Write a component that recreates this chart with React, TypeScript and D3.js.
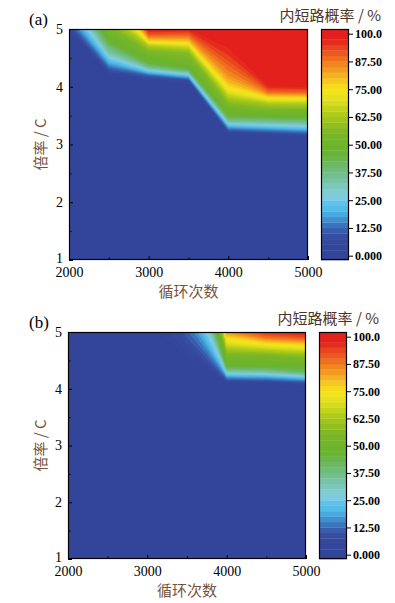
import { useEffect, useRef } from 'react';
import * as d3 from 'd3';

// grid of the contour data: cycle counts (x) and C-rates (y)
const cycles = [2000, 2500, 3000, 3500, 4000, 4500, 5000];
const rates = [1, 3.0, 3.1, 3.2, 3.3, 3.4, 3.5, 3.6, 3.7, 3.8, 3.9, 4.0, 4.1, 4.2, 4.3, 4.4, 4.5, 4.6, 4.7, 4.8, 4.9, 5.0];

// internal short-circuit probability (%), one row per cycle count, values along rates
const probA: number[][] = [
  [0, 0, 0, 0, 0, 0, 0, 0, 0, 0, 0, 0, 0, 0, 0, 0, 0, 0, 0, 0, 1, 6],
  [0, 0, 0, 0, 0, 0, 0, 0, 0, 0, 0, 0, 0, 3, 10, 18, 26, 34, 40, 47, 50, 54],
  [0, 0, 0, 0, 0, 0, 0, 0, 0, 0, 0, 0, 2, 12, 30, 45, 50, 55, 62, 78, 91, 99],
  [0, 0, 0, 0, 0, 0, 0, 0, 0, 0, 0, 0, 6, 24, 44, 50, 54, 58, 68, 80, 90, 98],
  [0, 0, 0, 5, 18, 34, 46, 52, 56, 62, 70, 76, 81, 85, 88, 91, 94, 96, 98, 99, 100, 100],
  [0, 0, 0, 8, 22, 36, 48, 55, 62, 74, 88, 97, 100, 100, 100, 100, 100, 100, 100, 100, 100, 100],
  [0, 0, 2, 12, 25, 38, 49, 55, 63, 75, 89, 98, 100, 100, 100, 100, 100, 100, 100, 100, 100, 100],
];

const probB: number[][] = [
  [0, 0, 0, 0, 0, 0, 0, 0, 0, 0, 0, 0, 0, 0, 0, 0, 0, 0, 0, 0, 0, 0],
  [0, 0, 0, 0, 0, 0, 0, 0, 0, 0, 0, 0, 0, 0, 0, 0, 0, 0, 0, 0, 0, 0],
  [0, 0, 0, 0, 0, 0, 0, 0, 0, 0, 0, 0, 0, 0, 0, 0, 0, 0, 0, 0, 0, 1],
  [0, 0, 0, 0, 0, 0, 0, 0, 0, 0, 0, 0, 0, 0, 0, 0, 2, 4, 6, 8, 10, 12],
  [0, 0, 0, 0, 0, 0, 0, 0, 0, 0, 0, 0, 3, 16, 32, 46, 50, 55, 62, 70, 76, 85],
  [0, 0, 0, 0, 0, 0, 0, 0, 0, 0, 0, 0, 4, 18, 34, 47, 51, 56, 66, 76, 88, 96],
  [0, 0, 0, 0, 0, 0, 0, 0, 0, 0, 0, 0, 8, 24, 42, 48, 53, 60, 70, 80, 92, 99],
];

const xTicks = [2000, 3000, 4000, 5000];
const xMinor = [2500, 3500, 4500];
const yTicks = [1, 2, 3, 4, 5];
const yMinor = [1.5, 2.5, 3.5, 4.5];
const cbTicks = [0, 12.5, 25, 37.5, 50, 62.5, 75, 87.5, 100];
const cbLabels = ['0.000', '12.50', '25.00', '37.50', '50.00', '62.50', '75.00', '87.50', '100.0'];

const colorStops = [0, 8, 12, 16, 20, 24, 27, 31, 36, 42, 47, 55, 60, 65, 70, 75, 79, 83, 88, 93, 97, 100];
const colorList = [
  '#32449a', '#35499d', '#3a62b0', '#3f8ccc', '#4cb8e8', '#62c4ea', '#84cde0', '#7dc8c0',
  '#72bf94', '#6cb75c', '#6ab32e', '#78b628', '#98c21c', '#b8cf1a', '#e0e01e', '#f6e51d',
  '#f6c51e', '#f4a21f', '#f0761f', '#ea4a1f', '#e4241d', '#e31d1c',
];

const STEP = 2.5;
const SERIF = '"Liberation Serif", "Times New Roman", serif';
const CJK = '"Noto Sans CJK SC", sans-serif';

const panels = [
  { tag: '(a)', data: probA, left: 69, right: 308, top: 29, bottom: 260, cbLeft: 321, cbRight: 349 },
  { tag: '(b)', data: probB, left: 68, right: 306, top: 332, bottom: 559, cbLeft: 319, cbRight: 347 },
];

// rate at which one column's profile first reaches level v (extrapolated past the top)
function crossRate(profile: number[], v: number) {
  if (profile[0] >= v) return rates[0];
  for (let k = 1; k < rates.length; k++) {
    if (profile[k] >= v) {
      const a = profile[k - 1], b = profile[k];
      return rates[k - 1] + ((v - a) / (b - a)) * (rates[k] - rates[k - 1]);
    }
  }
  const n = rates.length;
  const slope = (profile[n - 1] - profile[n - 2]) / (rates[n - 1] - rates[n - 2]);
  if (slope <= 0) return 15;
  return Math.min(15, rates[n - 1] + (v - profile[n - 1]) / slope);
}

export default function App() {
  const svgRef = useRef<SVGSVGElement>(null);

  useEffect(() => {
    if (!svgRef.current) return;
    const svg = d3.select(svgRef.current);
    svg.selectAll('*').remove();

    const color = d3.scaleLinear<string>().domain(colorStops).range(colorList).interpolate(d3.interpolateRgb);
    const levels = d3.range(STEP, 100, STEP);
    const bandColor = (t: number) => color(t + STEP / 2);

    panels.forEach((p, pi) => {
      const x = d3.scaleLinear().domain([2000, 5000]).range([p.left, p.right]);
      const y = d3.scaleLinear().domain([1, 5]).range([p.bottom, p.top]);

      const clipId = `clip-${pi}`;
      svg.append('clipPath').attr('id', clipId)
        .append('rect')
        .attr('x', p.left).attr('y', p.top)
        .attr('width', p.right - p.left).attr('height', p.bottom - p.top);

      // filled contour levels: region above each level's crossing line
      const bands = levels.map(v => ({
        v,
        pts: cycles.map((c, i) => ({ c, r: crossRate(p.data[i], v) })),
      }));
      const area = d3.area<{ c: number; r: number }>()
        .x(d => x(d.c))
        .y0(d => y(d.r))
        .y1(p.top - 40);

      const g = svg.append('g').attr('clip-path', `url(#${clipId})`);
      g.append('rect')
        .attr('x', p.left).attr('y', p.top)
        .attr('width', p.right - p.left).attr('height', p.bottom - p.top)
        .attr('fill', bandColor(0));
      g.selectAll('path')
        .data(bands)
        .join('path')
        .attr('d', d => area(d.pts) || '')
        .attr('fill', d => bandColor(d.v))
        .attr('stroke', d => bandColor(d.v))
        .attr('stroke-width', 0.3);

      // axes with inward ticks
      const yAxis = svg.append('g')
        .attr('transform', `translate(${p.left},0)`)
        .call(d3.axisLeft(y).tickValues(yTicks).tickSize(-4).tickPadding(6).tickFormat(d3.format('d')));
      yAxis.select('.domain').remove();
      yAxis.attr('font-family', SERIF).attr('font-size', 14);
      yAxis.selectAll('text').attr('fill', '#000').attr('dy', (d: any) => (d === 1 ? '0.15em' : '0.32em'));

      const yMin = svg.append('g')
        .attr('transform', `translate(${p.left},0)`)
        .call(d3.axisLeft(y).tickValues(yMinor).tickSize(-2.5).tickFormat(() => ''));
      yMin.select('.domain').remove();

      const xAxis = svg.append('g')
        .attr('transform', `translate(0,${p.bottom})`)
        .call(d3.axisBottom(x).tickValues(xTicks).tickSize(-4).tickPadding(7).tickFormat(d3.format('d')));
      xAxis.select('.domain').remove();
      xAxis.attr('font-family', SERIF).attr('font-size', 14);
      xAxis.selectAll('text').attr('fill', '#000');

      const xMin = svg.append('g')
        .attr('transform', `translate(0,${p.bottom})`)
        .call(d3.axisBottom(x).tickValues(xMinor).tickSize(-2.5).tickFormat(() => ''));
      xMin.select('.domain').remove();

      svg.append('rect')
        .attr('x', p.left + 0.5).attr('y', p.top + 0.5)
        .attr('width', p.right - p.left - 1).attr('height', p.bottom - p.top - 1)
        .attr('fill', 'none').attr('stroke', '#000').attr('stroke-width', 1.2);

      // colour bar
      const cb = d3.scaleLinear().domain([0, 100]).range([p.bottom - 4.3, p.top + 4.7]);
      const cbBands = d3.range(0, 100, STEP);
      const bandTop = (d: number) => (d + STEP >= 100 ? p.top : cb(d + STEP));
      const bandBottom = (d: number) => (d === 0 ? p.bottom : cb(d));
      svg.append('g')
        .selectAll('rect')
        .data(cbBands)
        .join('rect')
        .attr('x', p.cbLeft)
        .attr('width', p.cbRight - p.cbLeft)
        .attr('y', d => bandTop(d))
        .attr('height', d => bandBottom(d) - bandTop(d) + 0.3)
        .attr('fill', d => bandColor(d));
      svg.append('rect')
        .attr('x', p.cbLeft + 0.5).attr('y', p.top + 0.5)
        .attr('width', p.cbRight - p.cbLeft - 1).attr('height', p.bottom - p.top - 1)
        .attr('fill', 'none').attr('stroke', '#000').attr('stroke-width', 1.2);

      const cbAxis = svg.append('g')
        .attr('transform', `translate(${p.cbRight},0)`)
        .call(d3.axisRight(cb).tickValues(cbTicks).tickSize(4).tickPadding(2)
          .tickFormat((_d, i) => cbLabels[i]));
      cbAxis.select('.domain').remove();
      cbAxis.attr('font-family', SERIF).attr('font-size', 12).attr('font-weight', 'bold');
      cbAxis.selectAll('text').attr('fill', '#000');

      // titles
      svg.append('text')
        .attr('x', p.cbRight + 32).attr('y', p.top - 8)
        .attr('text-anchor', 'end')
        .attr('font-family', CJK).attr('font-size', 15)
        .attr('fill', '#4a3428')
        .text('内短路概率 / %');

      svg.append('text')
        .attr('x', 29).attr('y', p.top - 4)
        .attr('font-family', SERIF).attr('font-size', 17)
        .attr('fill', '#000')
        .text(p.tag);

      svg.append('text')
        .attr('x', (p.left + p.right) / 2).attr('y', p.bottom + 37)
        .attr('text-anchor', 'middle')
        .attr('font-family', CJK).attr('font-size', 15)
        .attr('fill', '#76543a')
        .text('循环次数');

      svg.append('text')
        .attr('transform', `translate(46,${(p.top + p.bottom) / 2}) rotate(-90)`)
        .attr('text-anchor', 'middle')
        .attr('font-family', CJK).attr('font-size', 15)
        .attr('fill', '#76543a')
        .text('倍率 / C');
    });
  }, []);

  return (
    <svg
      ref={svgRef}
      width={395}
      height={603}
      style={{ position: 'absolute', left: 0, top: 0, background: '#fff' }}
    />
  );
}
